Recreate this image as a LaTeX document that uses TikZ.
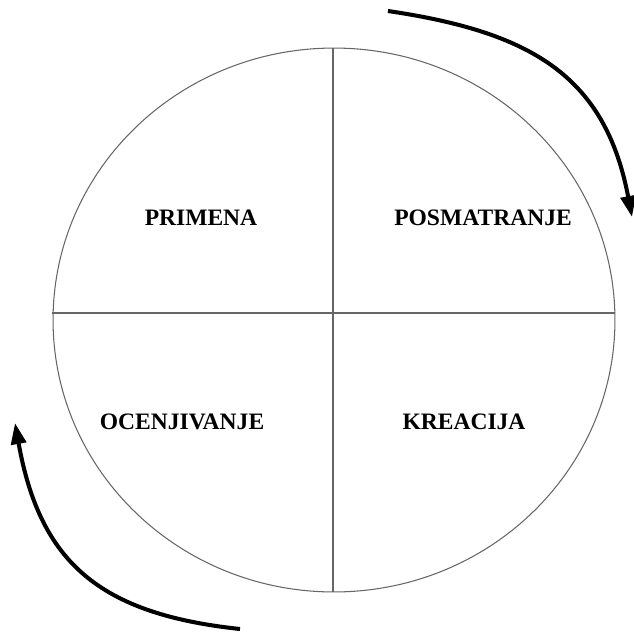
\documentclass[tikz,border=0pt]{standalone}
\usepackage{fontspec}
\setmainfont{Liberation Serif}
\usetikzlibrary{arrows.meta}

\newcommand*{\cx}{334}
\newcommand*{\cy}{320}
\newcommand*{\hy}{313}

\begin{document}
\begin{tikzpicture}
[
	x=0.02cm, y=-0.02cm,
	rim/.style={draw=black!60, line width=0.6pt},
	phase/.style={font=\fontsize{13.4}{16}\selectfont\bfseries, inner sep=0pt},
	cycle/.style={line width=2.3pt, -{Triangle[length=12pt,width=8.5pt]}}
]
	\useasboundingbox (0,0) rectangle (634,632);

	% circle and quarters
	\draw[rim] (\cx,\cy) ellipse [x radius=5.62cm, y radius=5.44cm];
	\draw[rim] (333,48) -- (333,592);
	\draw[rim] (52,\hy) -- (615,\hy);

	% labels
	\node[phase] (primena) at (201,218) {PRIMENA};
	\node[phase] (posmatranje) at (483,218) {POSMATRANJE};
	\node[phase] (ocenjivanje) at (182,422) {OCENJIVANJE};
	\node[phase] (kreacija) at (464,422) {KREACIJA};

	% arrows round the circle
	\coordinate (topstart) at (388,11);
	\coordinate (topend) at (632,217);
	\coordinate (botstart) at (240,629);
	\coordinate (botend) at (15,423);
	\draw[cycle] (topstart) .. controls (530,32) and (605,75) .. (topend);
	\draw[cycle] (botstart) .. controls (100,614) and (40,563) .. (botend);

\end{tikzpicture}
\end{document}
